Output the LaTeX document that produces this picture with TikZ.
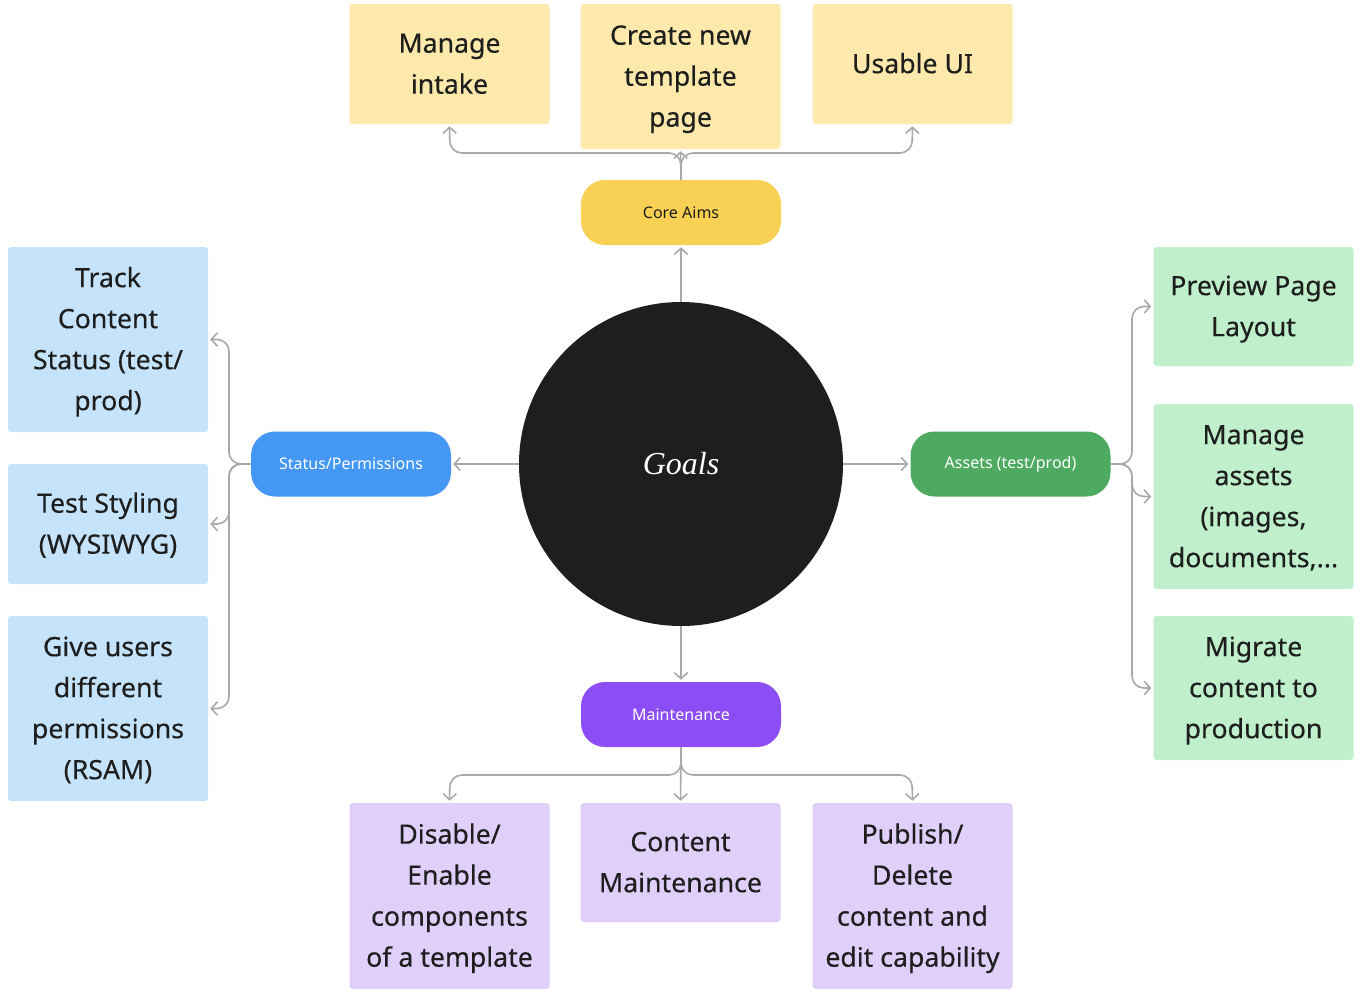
\documentclass[tikz,border=0pt]{standalone}
\usepackage{fontspec}
\setmainfont{Noto Sans}
\newfontfamily\notefont{Noto Sans}[FakeBold=0.35]
\newfontfamily\handfont{Liberation Serif}
\usetikzlibrary{arrows.meta}
\newcommand\notelines[1]{\begin{tabular}{@{}c@{}}\rule{0pt}{23pt}#1\end{tabular}}
\definecolor{conn}{HTML}{A9A9A9}
\definecolor{txt}{HTML}{1E1E1E}
\definecolor{noteY}{HTML}{FDE9AB}
\definecolor{noteB}{HTML}{C5E3FA}
\definecolor{noteG}{HTML}{BFF0CB}
\definecolor{noteP}{HTML}{DFCFF9}
\definecolor{pillY}{HTML}{F8D053}
\definecolor{pillB}{HTML}{4597F4}
\definecolor{pillG}{HTML}{4DAA60}
\definecolor{pillP}{HTML}{8D4DF4}
\definecolor{goalc}{HTML}{1E1E1E}
\tikzset{
  note/.style={rectangle, rounded corners=2.5pt, draw=none, inner sep=0pt,
    minimum width=150pt, text=txt,
    font=\notefont\fontsize{20}{30.75}\selectfont},
  pill/.style={rectangle, rounded corners=18pt, inner sep=0pt,
    minimum width=150pt, minimum height=48.75pt, align=center,
    font=\fontsize{12}{14}\selectfont},
  link/.style={draw=conn, line width=1.2pt, rounded corners=9pt,
    -{Straight Barb[length=4.5pt,width=10pt,line width=1.2pt]}, shorten >=1.5pt},
}
\begin{document}
\begin{tikzpicture}[x=0.75pt,y=-0.75pt]
\useasboundingbox[fill=white] (0,0) rectangle (1366,1003);

% centre
\node[circle, fill=goalc, minimum size=243pt, inner sep=0pt, text=white,
  font=\handfont\itshape\fontsize{24}{28}\selectfont] (goals) at (681,464) {Goals};

% pills
\node[pill, fill=pillY, text=txt] (core) at (681,212.5) {Core Aims};
\node[pill, fill=pillB, text=white] (status) at (351,464) {Status/Permissions};
\node[pill, fill=pillG, text=white] (assets) at (1010.5,464) {Assets (test/prod)};
\node[pill, fill=pillP, text=white] (maint) at (681,714.5) {Maintenance};

% top notes
\node[note, fill=noteY, minimum height=90pt] (intake) at (449.5,64) {\notelines{Manage\\intake}};
\node[note, fill=noteY, minimum height=108.75pt] (tmpl) at (680.5,76.5) {\notelines{Create new\\template\\page}};
\node[note, fill=noteY, minimum height=90pt] (ui) at (912.5,64) {\notelines{Usable UI}};

% left notes
\node[note, fill=noteB, minimum height=138.75pt] (track) at (108,339.5) {\notelines{Track\\Content\\Status (test/\\prod)}};
\node[note, fill=noteB, minimum height=90pt] (styling) at (108,524) {\notelines{Test Styling\\(WYSIWYG)}};
\node[note, fill=noteB, minimum height=138.75pt] (perm) at (108,708.5) {\notelines{Give users\\different\\permissions\\(RSAM)}};

% right notes
\node[note, fill=noteG, minimum height=89.25pt] (preview) at (1253.5,306.5) {\notelines{Preview Page\\Layout}};
\node[note, fill=noteG, minimum height=138.75pt] (massets) at (1253.5,496.5) {\notelines{Manage\\assets\\(images,\\documents,...}};
\node[note, fill=noteG, minimum height=108pt] (migrate) at (1253.5,688) {\notelines{Migrate\\content to\\production}};

% bottom notes
\node[note, fill=noteP, minimum height=139.5pt] (disable) at (449.5,896) {\notelines{Disable/\\Enable\\components\\of a template}};
\node[note, fill=noteP, minimum height=89.25pt] (cmaint) at (680.5,862.5) {\notelines{Content\\Maintenance}};
\node[note, fill=noteP, minimum height=139.5pt] (publish) at (912.5,896) {\notelines{Publish/\\Delete\\content and\\edit capability}};

% centre connectors
\draw[link] (goals.north) -- (core.south);
\draw[link] (goals.west) -- (status.east);
\draw[link] (goals.east) -- (assets.west);
\draw[link] (goals.south) -- (maint.north);

% core aims branches
\draw[link] (core.north) -- (681,153) -- (450,153) -- (intake.south);
\draw[link] (core.north) -- (tmpl.south);
\draw[link] (core.north) -- (681,153) -- (912,153) -- (ui.south);

% status branches
\draw[link] (status.west) -- (229,464) -- (229,339.5) -- (track.east);
\draw[link] (status.west) -- (229,464) -- (229,524) -- (styling.east);
\draw[link] (status.west) -- (229,464) -- (229,708.5) -- (perm.east);

% assets branches
\draw[link] (assets.east) -- (1132,464) -- (1132,306.5) -- (preview.west);
\draw[link] (assets.east) -- (1132,464) -- (1132,496.5) -- (massets.west);
\draw[link] (assets.east) -- (1132,464) -- (1132,688) -- (migrate.west);

% maintenance branches
\draw[link] (maint.south) -- (681,775) -- (450,775) -- (disable.north);
\draw[link] (maint.south) -- (cmaint.north);
\draw[link] (maint.south) -- (681,775) -- (912,775) -- (publish.north);
\end{tikzpicture}
\end{document}
